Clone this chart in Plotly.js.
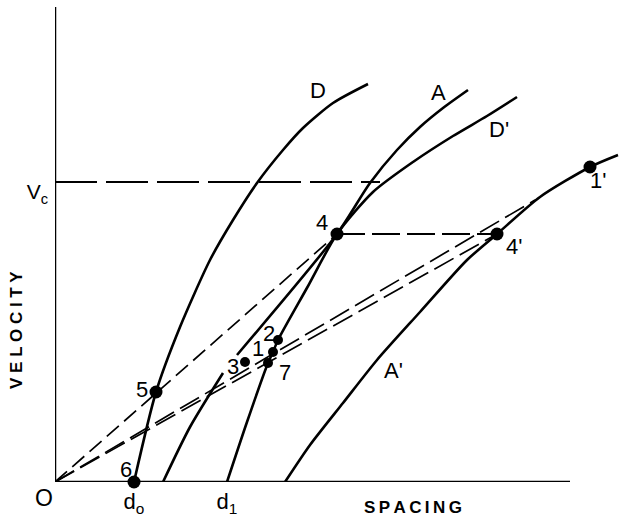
<!DOCTYPE html>
<html>
<head>
<meta charset="utf-8">
<script src="https://cdn.plot.ly/plotly-3.0.1.min.js"></script>
<style>html,body{margin:0;padding:0;background:#fff;}#chart{width:620px;height:518px;}</style>
</head>
<body>
<div id="chart"></div>
<script>
// ---- data (spacing, velocity) ----
const D_x = [1.58, 2.02, 2.50, 3.10, 3.56, 4.04, 4.56, 4.96, 5.56, 6.26];
const D_y = [0.00, 1.80, 3.10, 4.44, 5.24, 5.98, 6.64, 7.08, 7.58, 7.96];

const A_x = [2.16, 2.70, 3.36, null, 3.64, 5.64, 6.30, 6.84, 7.30, 7.76, 8.26];
const A_y = [0.00, 1.10, 2.18, null, 2.54, 4.96, 5.98, 6.64, 7.10, 7.48, 7.84];

const Dp_x = [3.44, 3.84, 4.26, 4.36, 4.46, 5.05, 5.64, 6.36, 7.16, 7.96, 8.64, 9.24];
const Dp_y = [0.00, 1.20, 2.38, 2.60, 2.84, 3.90, 4.96, 5.80, 6.40, 6.92, 7.32, 7.70];

const Ap_x = [4.60, 5.10, 5.76, 6.44, 7.30, 8.24, 8.84, 9.70, 10.70, 11.26];
const Ap_y = [0.00, 0.74, 1.58, 2.44, 3.40, 4.44, 4.96, 5.70, 6.30, 6.54];

// dashed construction lines
const ray5_x = [0, 5.64],  ray5_y = [0, 4.96];     // O - 5 - 4
const ray7_x = [0, 8.84],  ray7_y = [0, 4.96];     // O - 7 - 4'
const ray1_x = [0, 9.60],  ray1_y = [0, 5.64];     // O - 1 - (1')
const h44_x  = [5.64, 8.84], h44_y = [4.96, 4.96]; // 4 - 4'
const vc = 6.0, vcEnd = 6.5;
const vc_x = [0, vcEnd], vc_y = [vc, vc];

// numbered points
const bigPts_x = [1.58, 2.02, 5.64, 8.84, 10.70];
const bigPts_y = [0.00, 1.80, 4.96, 4.96, 6.30];
const smallPts_x = [3.80, 4.36, 4.46, 4.26];
const smallPts_y = [2.40, 2.60, 2.84, 2.38];

// text labels and their positions
const labels   = ["D", "A", "D'", "A'", "4", "4'", "1'", "5", "6", "3", "1", "2", "7"];
const labels_x = [5.26, 7.66, 8.88, 6.76, 5.34, 9.18, 10.86, 1.74, 1.42, 3.56, 4.06, 4.28, 4.60];
const labels_y = [7.84, 7.80, 7.06, 2.24, 5.20, 4.72, 6.04, 1.86, 0.26, 2.32, 2.68, 2.98, 2.20];

// axis ticks
const xTickVals = [1.58, 3.44];
const xTickText = ["d<sub>o</sub>", "d<sub>1</sub>"];
const yTickVals = [vc];
const yTickText = ["V<sub>c</sub>"];

// axis titles / origin (paper positions)
const xTitle = "S\u2009P\u2009A\u2009C\u2009I\u2009N\u2009G";
const yTitle = "V E L O C I T Y";
const originLabel = "O";

const X_AXIS_END = 10.3, Y_AXIS_END = 9.5;

const FONT = "Liberation Sans, Arial, sans-serif";
const solid = {color: "#000", width: 2.6, shape: "spline", smoothing: 0.7};

const traces = [
  {x: D_x, y: D_y, mode: "lines", line: solid, connectgaps: false},
  {x: A_x, y: A_y, mode: "lines", line: solid, connectgaps: false},
  {x: Dp_x, y: Dp_y, mode: "lines", line: solid},
  {x: Ap_x, y: Ap_y, mode: "lines", line: solid},
  {x: ray5_x, y: ray5_y, mode: "lines", line: {color: "#000", width: 1.7, dash: "16px,7px"}},
  {x: ray7_x, y: ray7_y, mode: "lines", line: {color: "#000", width: 1.7, dash: "22px,7px"}},
  {x: ray1_x, y: ray1_y, mode: "lines", line: {color: "#000", width: 1.7, dash: "22px,7px"}},
  {x: h44_x, y: h44_y, mode: "lines", line: {color: "#000", width: 1.9, dash: "28px,7px"}},
  {x: vc_x, y: vc_y, mode: "lines", line: {color: "#000", width: 1.9, dash: "42px,9px"}},
  {x: bigPts_x, y: bigPts_y, mode: "markers", marker: {color: "#000", size: 13}, cliponaxis: false},
  {x: smallPts_x, y: smallPts_y, mode: "markers", marker: {color: "#000", size: 10}, cliponaxis: false}
];

const annotations = labels.map((t, i) => ({
  x: labels_x[i], y: labels_y[i], xref: "x", yref: "y", text: t, showarrow: false,
  xanchor: "center", yanchor: "middle", font: {family: FONT, size: 22, color: "#000"}
}));
annotations.push({x: -0.0195, y: -0.034, xref: "paper", yref: "paper", text: originLabel, showarrow: false,
  xanchor: "center", yanchor: "middle", font: {family: FONT, size: 23, color: "#000"}});
annotations.push({x: 0.6336, y: -0.052, xref: "paper", yref: "paper", text: xTitle, showarrow: false,
  xanchor: "center", yanchor: "middle", font: {family: FONT, size: 17, color: "#000", weight: "bold"}});
annotations.push({x: -0.0673, y: 0.3154, xref: "paper", yref: "paper", text: yTitle, showarrow: false, textangle: -90,
  xanchor: "center", yanchor: "middle", font: {family: FONT, size: 17, color: "#000", weight: "bold"}});

const layout = {
  width: 620, height: 518,
  margin: {l: 55, r: 0, t: 0, b: 36},
  paper_bgcolor: "#fff", plot_bgcolor: "#fff",
  showlegend: false,
  xaxis: {range: [0, 11.3], showgrid: false, zeroline: false, showline: false, ticks: "",
          tickvals: xTickVals, ticktext: xTickText, tickfont: {family: FONT, size: 22, color: "#000"},
          ticklabelstandoff: 4, fixedrange: true},
  yaxis: {range: [0, 9.64], showgrid: false, zeroline: false, showline: false, ticks: "",
          tickvals: yTickVals, ticktext: yTickText, tickfont: {family: FONT, size: 21, color: "#000"},
          ticklabelstandoff: 6, ticklabelshift: 10, fixedrange: true},
  shapes: [
    {type: "line", xref: "x", yref: "y", x0: 0, y0: 0, x1: X_AXIS_END, y1: 0, line: {color: "#000", width: 2.5}},
    {type: "line", xref: "x", yref: "y", x0: 0, y0: 0, x1: 0, y1: Y_AXIS_END, line: {color: "#000", width: 2.5}}
  ],
  annotations: annotations
};

Plotly.newPlot("chart", traces, layout, {staticPlot: true, displayModeBar: false});
</script>
</body>
</html>
